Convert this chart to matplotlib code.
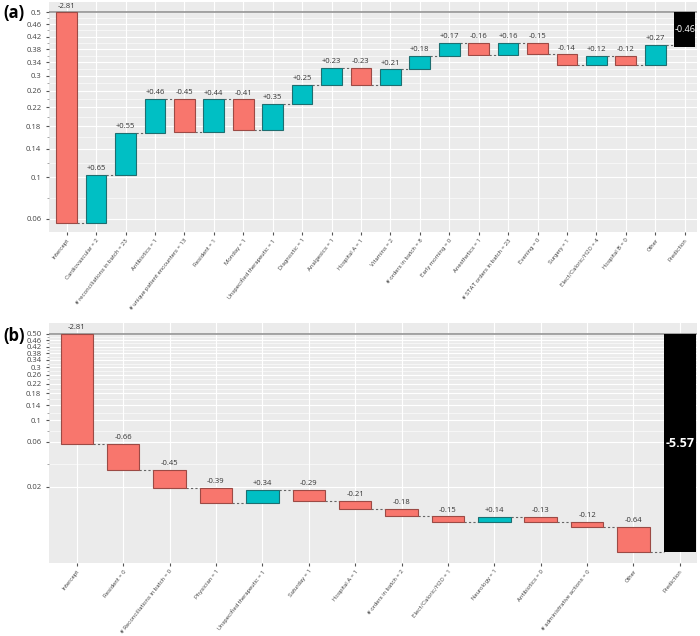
import numpy as np
import matplotlib.pyplot as plt
from matplotlib.ticker import FixedLocator, FixedFormatter, NullFormatter

plt.rcParams['font.family'] = ['Open Sans', 'DejaVu Sans']

# panel (a): contributions in log-odds
labels_a = ['Intercept', 'Cardiovascular = 2', '# reconciliations in batch = 23', 'Antibiotics = 1',
            '# unique patient encounters = 13', 'Resident = 1', 'Monday = 1', 'Unspecified therapeutic = 1',
            'Diagnostic = 1', 'Analgesics = 1', 'Hospital A = 1', 'Vitamins = 2', '# orders in batch = 8',
            'Early morning = 0', 'Anesthetics = 1', '# STAT orders in batch = 23', 'Evening = 0',
            'Surgery = 1', 'Elect/Caloric/H2O = 4', 'Hospital B = 0', 'Other']
contrib_a = [-2.81, 0.65, 0.55, 0.46, -0.45, 0.44, -0.41, 0.35, 0.25, 0.23, -0.23, 0.21, 0.18,
             0.17, -0.16, 0.16, -0.15, -0.14, 0.12, -0.12, 0.27]
pred_a = -0.46
yticks_a = [0.06, 0.1, 0.14, 0.18, 0.22, 0.26, 0.3, 0.34, 0.38, 0.42, 0.46, 0.5]
yticklabels_a = ['0.06', '0.1', '0.14', '0.18', '0.22', '0.26', '0.3', '0.34', '0.38', '0.42', '0.46', '0.5']

# panel (b)
labels_b = ['Intercept', 'Resident = 0', '# Reconciliations in batch = 0', 'Physician = 1',
            'Unspecified therapeutic = 1', 'Saturday = 1', 'Hospital A = 1', '# orders in batch = 2',
            'Elect/Caloric/H2O = 1', 'Neurology = 1', 'Antibiotics = 0', '# administrative actions = 0',
            'Other']
contrib_b = [-2.81, -0.66, -0.45, -0.39, 0.34, -0.29, -0.21, -0.18, -0.15, 0.14, -0.13, -0.12, -0.64]
pred_b = -5.57
yticks_b = [0.02, 0.06, 0.1, 0.14, 0.18, 0.22, 0.26, 0.3, 0.34, 0.38, 0.42, 0.46, 0.5]
yticklabels_b = ['0.02', '0.06', '0.1', '0.14', '0.18', '0.22', '0.26', '0.3', '0.34', '0.38', '0.42',
                 '0.46', '0.50']

RED, RED_EDGE = '#F8766D', '#9C4A45'
TEAL, TEAL_EDGE = '#00BFC4', '#1E6E70'


def expit(z):
    return 1.0 / (1.0 + np.exp(-np.asarray(z, dtype=float)))


def logit(p):
    p = np.asarray(p, dtype=float)
    return np.log(p / (1 - p))


def waterfall(ax, labels, contrib, pred, yticks, yticklabels, ylim, xmax, pred_fs, pred_bold):
    contrib = np.array(contrib)
    n = len(contrib)
    ends = np.cumsum(contrib)
    starts = np.concatenate([[0.0], ends[:-1]])
    x = np.arange(n)
    p0, p1 = expit(starts), expit(ends)
    neg = contrib < 0
    w = 0.7

    ax.set_facecolor('#EBEBEB')
    ax.set_yscale('logit')
    ax.bar(x, p1 - p0, bottom=p0, width=w,
           color=np.where(neg, RED, TEAL), edgecolor=np.where(neg, RED_EDGE, TEAL_EDGE),
           linewidth=0.8, zorder=3)
    # prediction bar
    pp = expit(pred)
    ax.bar(n, pp - 0.5, bottom=0.5, width=w, color='black', zorder=3)
    ax.text(n, expit(pred / 2), '%.2f' % pred, color='white', ha='center', va='center',
            fontsize=pred_fs, fontweight='bold' if pred_bold else 'normal', zorder=4)

    # connectors
    for i in range(n):
        ax.plot([x[i] + w / 2, x[i] + 1 - w / 2], [p1[i], p1[i]], color='#666666',
                lw=0.8, ls=(0, (2, 2)), zorder=2)

    # value labels
    for i in range(n):
        top = max(p0[i], p1[i])
        txt = '%.2f' % contrib[i] if i == 0 or contrib[i] < 0 else '+%.2f' % contrib[i]
        ax.annotate(txt, (x[i], top), xytext=(0, 2), textcoords='offset points',
                    ha='center', va='bottom', fontsize=5.5, color='#333333', zorder=4)

    ax.axhline(0.5, color='#8C8C8C', lw=1.1, zorder=2)

    ax.set_ylim(*ylim)
    ax.set_xlim(-0.6, xmax)
    ax.yaxis.set_major_locator(FixedLocator(yticks))
    ax.yaxis.set_major_formatter(FixedFormatter(yticklabels))
    lt = logit(sorted(yticks))
    minors = expit((lt[:-1] + lt[1:]) / 2)
    ax.yaxis.set_minor_locator(FixedLocator(minors))
    ax.yaxis.set_minor_formatter(NullFormatter())
    ax.set_xticks(np.arange(n + 1))
    ax.set_xticklabels(labels + ['Prediction'], rotation=52, ha='right',
                       rotation_mode='anchor', fontsize=4.4, color='#555555',
                       family=['Roboto', 'DejaVu Sans'])
    ax.tick_params(axis='y', labelsize=5.5, labelcolor='#444444', length=2, color='#555555')
    ax.tick_params(axis='y', which='minor', length=1.5, color='#999999')
    ax.tick_params(axis='x', length=2, color='#555555', pad=2)
    ax.grid(True, which='major', color='white', lw=0.8, zorder=0)
    ax.grid(True, which='minor', axis='y', color='white', lw=0.4, zorder=0)
    ax.set_axisbelow(True)
    for s in ax.spines.values():
        s.set_visible(False)


fig = plt.figure(figsize=(7.0, 6.36), dpi=100)
ax_a = fig.add_axes([49 / 700, 1 - 232 / 636, 648 / 700, 230 / 636])
ax_b = fig.add_axes([49 / 700, 1 - 563 / 636, 648 / 700, 240 / 636])

waterfall(ax_a, labels_a, contrib_a, pred_a, yticks_a, yticklabels_a,
          (expit(-2.925), expit(0.137)), 21.42, 6.5, False)
waterfall(ax_b, labels_b, contrib_b, pred_b, yticks_b, yticklabels_b,
          (expit(-5.84), expit(0.28)), 13.37, 9, True)

fig.text(3 / 700, 1 - 13 / 636, '(a)', fontsize=12, fontweight='bold', va='center', ha='left')
fig.text(3 / 700, 1 - 336 / 636, '(b)', fontsize=12, fontweight='bold', va='center', ha='left')

fig.savefig('out.png', dpi=100)
